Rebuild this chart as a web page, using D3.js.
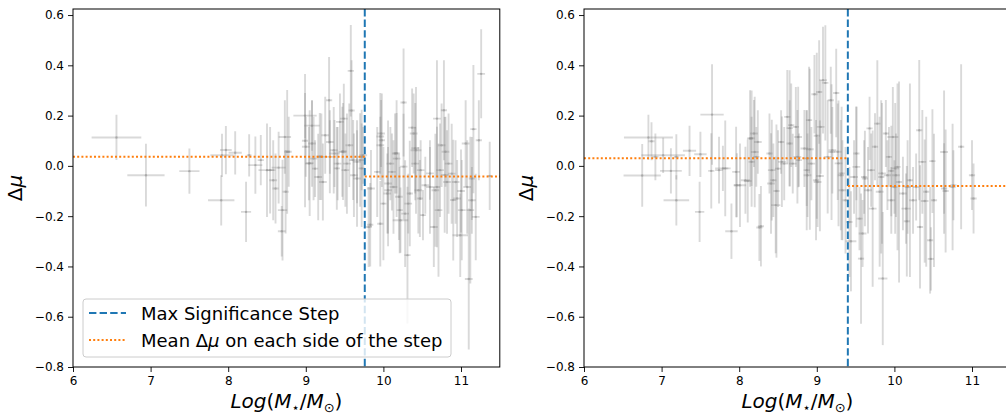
<!DOCTYPE html>
<html>
<head>
<meta charset="utf-8">
<script src="https://cdn.jsdelivr.net/npm/d3@7"></script>
<style>
  body { margin: 0; background: #fff; }
  text { font-family: "DejaVu Sans", sans-serif; }
</style>
</head>
<body>
<div id="container"></div>
<script>
let w = 1006;
let h = 419;

// tick values shared by both panels
let xTicks = [6, 7, 8, 9, 10, 11];
let yTicks = [-0.8, -0.6, -0.4, -0.2, 0.0, 0.2, 0.4, 0.6];

// [logM, dmu, xerr, yerr]
let leftPoints = [
  [6.56, 0.113, 0.32, 0.09], [6.94, -0.037, 0.24, 0.125], [7.50, -0.021, 0.13, 0.09],
  [7.91, -0.137, 0.17, 0.10], [8.23, -0.183, 0.065, 0.12], [7.92, 0.042, 0.15, 0.086],
  [7.97, 0.063, 0.075, 0.096], [8.09, 0.052, 0.085, 0.086], [8.27, 0.042, 0.03, 0.084],
  [8.35, 0.003, 0.09, 0.114], [8.42, 0.023, 0.04, 0.10], [8.50, -0.017, 0.11, 0.186],
  [8.54, -0.017, 0.05, 0.172], [8.58, -0.057, 0.05, 0.159], [8.61, -0.090, 0.04, 0.139],
  [8.65, -0.007, 0.09, 0.143], [8.69, -0.26, 0.05, 0.10], [8.70, -0.176, 0.06, 0.20],
  [8.73, 0.115, 0.08, 0.146], [8.74, -0.103, 0.04, 0.166], [8.76, 0.056, 0.04, 0.246],
  [8.78, 0.056, 0.04, 0.139], [8.99, 0.20, 0.15, 0.09], [9.00, 0.076, 0.05, 0.119],
  [9.04, 0.009, 0.05, 0.146], [9.08, 0.089, 0.05, 0.172], [9.08, 0.16, 0.10, 0.10],
  [9.10, 0.029, 0.05, 0.166], [9.12, -0.011, 0.04, 0.113], [9.16, -0.044, 0.05, 0.172],
  [9.20, 0.036, 0.05, 0.172], [9.22, -0.064, 0.05, 0.153], [9.25, 0.122, 0.05, 0.153],
  [9.30, 0.261, 0.04, 0.172], [9.31, 0.095, 0.05, 0.126], [9.36, 0.062, 0.05, 0.172],
  [9.37, 0.049, 0.07, 0.133], [9.41, 0.009, 0.05, 0.146], [9.44, 0.175, 0.05, 0.113],
  [9.47, 0.056, 0.05, 0.179], [9.49, 0.188, 0.05, 0.139], [9.51, -0.017, 0.05, 0.146],
  [9.53, 0.009, 0.05, 0.199], [9.56, 0.082, 0.05, 0.166], [9.58, 0.378, 0.04, 0.182],
  [9.61, 0.023, 0.05, 0.159], [9.62, -0.037, 0.05, 0.166], [9.66, -0.050, 0.05, 0.192],
  [9.70, 0.023, 0.05, 0.186], [9.72, 0.036, 0.05, 0.133], [9.74, 0.042, 0.05, 0.113],
  [9.81, -0.243, 0.04, 0.159], [9.84, -0.090, 0.05, 0.153], [9.92, -0.024, 0.04, 0.179],
  [9.96, 0.082, 0.05, 0.113], [9.97, 0.129, 0.05, 0.133], [9.98, 0.102, 0.04, 0.186],
  [10.00, -0.150, 0.04, 0.225], [10.05, -0.110, 0.05, 0.159], [10.06, -0.097, 0.05, 0.172],
  [10.09, 0.009, 0.05, 0.146], [10.11, -0.024, 0.05, 0.153], [10.13, -0.084, 0.05, 0.186],
  [10.15, 0.049, 0.04, 0.159], [10.17, 0.029, 0.05, 0.232], [10.20, -0.123, 0.05, 0.172],
  [10.22, -0.216, 0.10, 0.13], [10.21, -0.176, 0.04, 0.172], [10.26, 0.252, 0.04, 0.215],
  [10.28, -0.190, 0.05, 0.212], [10.31, -0.355, 0.04, 0.272], [10.32, -0.150, 0.05, 0.119],
  [10.37, 0.152, 0.05, 0.156], [10.39, 0.129, 0.05, 0.159], [10.41, 0.009, 0.05, 0.146],
  [10.42, 0.062, 0.07, 0.252], [10.45, -0.097, 0.05, 0.172], [10.48, -0.017, 0.05, 0.119],
  [10.51, -0.196, 0.04, 0.10], [10.54, -0.077, 0.05, 0.113], [10.60, -0.084, 0.05, 0.186],
  [10.65, -0.243, 0.05, 0.159], [10.67, -0.097, 0.05, 0.225], [10.69, 0.188, 0.05, 0.232],
  [10.71, -0.176, 0.05, 0.265], [10.73, -0.017, 0.05, 0.186], [10.75, 0.082, 0.05, 0.166],
  [10.78, 0.221, 0.04, 0.199], [10.80, 0.056, 0.05, 0.139], [10.82, -0.064, 0.05, 0.206],
  [10.84, 0.009, 0.05, 0.199], [10.88, -0.031, 0.05, 0.199], [10.93, -0.064, 0.05, 0.166],
  [10.95, -0.130, 0.05, 0.153], [10.99, -0.276, 0.10, 0.166], [11.01, -0.176, 0.05, 0.199],
  [11.06, 0.089, 0.05, 0.172], [11.08, -0.084, 0.05, 0.186], [11.10, -0.45, 0.05, 0.28],
  [11.12, -0.176, 0.05, 0.292], [11.14, -0.137, 0.05, 0.133], [11.16, 0.146, 0.04, 0.255],
  [11.19, -0.203, 0.05, 0.172], [11.23, 0.102, 0.04, 0.159], [11.26, 0.366, 0.05, 0.177],
  [11.37, -0.040, 0.03, 0.136],
  [8.99, 0.100, 0.04, 0.265], [9.05, 0.011, 0.05, 0.21], [9.18, 0.037, 0.04, 0.173],
  [9.31, 0.036, 0.05, 0.145], [9.40, -0.010, 0.04, 0.165], [9.48, 0.057, 0.05, 0.193],
  [9.59, 0.220, 0.04, 0.20], [9.66, 0.016, 0.05, 0.165], [9.72, -0.010, 0.04, 0.233],
  [9.83, -0.234, 0.04, 0.166], [9.96, 0.117, 0.05, 0.173], [9.96, -0.230, 0.04, 0.17],
  [10.06, -0.070, 0.05, 0.25], [10.17, 0.050, 0.04, 0.16], [10.26, -0.003, 0.05, 0.21],
  [10.34, -0.110, 0.04, 0.21], [10.41, 0.070, 0.05, 0.18], [10.47, -0.130, 0.04, 0.153],
  [10.60, -0.030, 0.05, 0.105], [10.69, -0.084, 0.04, 0.24], [10.79, -0.036, 0.05, 0.23],
  [10.90, -0.136, 0.04, 0.24], [11.00, -0.100, 0.05, 0.165], [11.14, -0.050, 0.04, 0.165]
];

// [logM, dmu, xerr, yerr]
let rightPoints = [
  [6.83, 0.113, 0.315, 0.09], [6.87, 0.098, 0.04, 0.076], [6.92, 0.036, 0.04, 0.093],
  [6.75, -0.038, 0.24, 0.125], [7.02, 0.042, 0.28, 0.07], [7.12, -0.020, 0.14, 0.09],
  [7.19, -0.137, 0.165, 0.10], [7.19, 0.036, 0.03, 0.09], [7.36, 0.060, 0.085, 0.10],
  [7.50, 0.046, 0.08, 0.09], [7.49, -0.183, 0.06, 0.12], [7.65, 0.204, 0.15, 0.20],
  [7.64, -0.020, 0.04, 0.15], [7.74, -0.017, 0.05, 0.133], [7.79, -0.010, 0.10, 0.09],
  [7.90, -0.260, 0.08, 0.11], [7.96, -0.024, 0.05, 0.18], [8.01, -0.077, 0.08, 0.166],
  [8.08, -0.057, 0.06, 0.133], [8.14, 0.109, 0.04, 0.192], [8.16, 0.016, 0.04, 0.179],
  [8.19, 0.129, 0.05, 0.133], [8.22, 0.036, 0.04, 0.119], [8.24, 0.095, 0.05, 0.126],
  [8.26, -0.245, 0.04, 0.133], [8.39, 0.049, 0.04, 0.159], [8.41, -0.070, 0.05, 0.20],
  [8.44, -0.057, 0.04, 0.146], [8.47, -0.156, 0.06, 0.192], [8.50, -0.011, 0.04, 0.153],
  [8.54, 0.095, 0.04, 0.126], [8.58, 0.009, 0.05, 0.146], [8.62, 0.195, 0.04, 0.186],
  [8.65, 0.089, 0.04, 0.172], [8.67, 0.162, 0.04, 0.166], [8.69, 0.009, 0.05, 0.119],
  [8.73, 0.155, 0.04, 0.159], [8.75, 0.036, 0.05, 0.186], [8.77, 0.023, 0.04, 0.106],
  [8.84, 0.069, 0.05, 0.153], [8.87, -0.017, 0.04, 0.239], [8.88, -0.037, 0.05, 0.166],
  [8.90, 0.182, 0.04, 0.212], [8.93, 0.009, 0.05, 0.146], [8.97, 0.285, 0.04, 0.156],
  [8.99, -0.057, 0.04, 0.239], [9.01, -0.064, 0.05, 0.179], [9.03, 0.294, 0.04, 0.206],
  [9.05, 0.155, 0.05, 0.186], [9.08, 0.341, 0.05, 0.212], [9.11, 0.330, 0.04, 0.229],
  [9.14, 0.036, 0.05, 0.225], [9.18, 0.261, 0.04, 0.133], [9.20, 0.062, 0.05, 0.172],
  [9.25, 0.290, 0.04, 0.176], [9.27, 0.056, 0.05, 0.192], [9.31, -0.037, 0.04, 0.219],
  [9.33, -0.097, 0.05, 0.199], [9.37, -0.137, 0.04, 0.212], [9.42, -0.223, 0.04, 0.219],
  [9.44, -0.300, 0.07, 0.199], [9.48, -0.044, 0.05, 0.146], [9.51, 0.049, 0.04, 0.186],
  [9.55, -0.210, 0.04, 0.126], [9.57, -0.369, 0.04, 0.259], [9.59, -0.269, 0.05, 0.133],
  [9.61, -0.044, 0.04, 0.146], [9.66, -0.097, 0.05, 0.172], [9.68, 0.149, 0.04, 0.126],
  [9.70, -0.017, 0.05, 0.146], [9.72, -0.170, 0.05, 0.311], [9.75, 0.076, 0.04, 0.133],
  [9.78, 0.168, 0.04, 0.252], [9.81, -0.103, 0.05, 0.298], [9.83, -0.044, 0.04, 0.305],
  [9.85, -0.448, 0.06, 0.265], [9.89, 0.129, 0.04, 0.133], [9.91, -0.037, 0.05, 0.139],
  [9.93, 0.036, 0.04, 0.119], [9.96, -0.137, 0.05, 0.133], [9.98, 0.115, 0.07, 0.199],
  [10.00, -0.084, 0.04, 0.106], [10.02, -0.037, 0.05, 0.166], [10.04, -0.004, 0.04, 0.332],
  [10.06, -0.064, 0.04, 0.40], [10.11, -0.110, 0.05, 0.146], [10.15, -0.170, 0.06, 0.14],
  [10.17, -0.084, 0.04, 0.186], [10.20, -0.057, 0.04, 0.385], [10.24, -0.137, 0.05, 0.133],
  [10.28, -0.084, 0.04, 0.133], [10.32, 0.142, 0.04, 0.279], [10.33, -0.243, 0.04, 0.245],
  [10.36, 0.016, 0.05, 0.206], [10.41, -0.103, 0.04, 0.298], [10.46, -0.296, 0.04, 0.212],
  [10.49, 0.019, 0.04, 0.206], [10.51, -0.137, 0.04, 0.265], [10.64, 0.055, 0.05, 0.245],
  [10.66, -0.10, 0.04, 0.245], [10.75, -0.084, 0.04, 0.252], [10.76, -0.077, 0.04, 0.139],
  [10.86, 0.076, 0.04, 0.328], [11.00, -0.037, 0.04, 0.139], [11.02, -0.13, 0.04, 0.139],
  [7.82, -0.010, 0.04, 0.19], [7.97, -0.077, 0.04, 0.127], [8.11, -0.060, 0.05, 0.165],
  [8.16, 0.110, 0.04, 0.19], [8.20, 0.055, 0.05, 0.22], [8.28, -0.240, 0.04, 0.16],
  [8.42, -0.017, 0.05, 0.20], [8.48, -0.100, 0.04, 0.265], [8.55, 0.016, 0.05, 0.18],
  [8.65, 0.150, 0.04, 0.23], [8.76, 0.115, 0.05, 0.20], [8.87, 0.030, 0.04, 0.19],
  [8.91, 0.066, 0.05, 0.32], [9.00, 0.120, 0.04, 0.33], [9.04, -0.040, 0.05, 0.22],
  [9.19, 0.055, 0.04, 0.27], [9.28, 0.010, 0.05, 0.25], [9.32, -0.030, 0.04, 0.265],
  [9.51, -0.004, 0.05, 0.24], [9.62, -0.050, 0.04, 0.19], [9.84, -0.030, 0.05, 0.28],
  [9.96, -0.020, 0.04, 0.18], [10.01, -0.010, 0.05, 0.26], [10.16, -0.220, 0.04, 0.22],
  [10.39, -0.140, 0.05, 0.245], [10.47, -0.370, 0.04, 0.126], [10.64, -0.090, 0.04, 0.18]
];

// step position and mean dmu on each side of it
let leftStep = 9.76;
let leftMeans = [0.036, -0.042];
let rightStep = 9.40;
let rightMeans = [0.030, -0.080];

let legendLabels = ["Max Significance Step", "Mean Δμ on each side of the step"];

let plotTop = 9;
let plotBottom = 367;
let blue = "#1f77b4";
let orange = "#ff7f0e";
let dotted = "2,2.2";
let dashed = "7.4,3.2";

let viz = d3.select("#container")
  .append("svg")
    .attr("width", w)
    .attr("height", h)
    .style("background-color", "white");

let yScale = d3.scaleLinear().domain([-0.8, 0.624]).range([plotBottom, plotTop]);

// writes "Δμ" style text with an italic mu
function addMu(sel, before, after){
  sel.append("tspan").text(before);
  sel.append("tspan").attr("font-style", "italic").text("μ");
  if(after) sel.append("tspan").text(after);
}

function drawPanel(left, right, points, step, means, id, withLegend){
  let xScale = d3.scaleLinear().domain([6, 11.5]).range([left, right]);
  let panel = viz.append("g");

  panel.append("clipPath").attr("id", id)
    .append("rect")
      .attr("x", left).attr("y", plotTop)
      .attr("width", right - left).attr("height", plotBottom - plotTop);

  let plot = panel.append("g").attr("clip-path", "url(#" + id + ")");

  // error bars
  let groups = plot.selectAll(".pt").data(points).enter()
    .append("g").attr("class", "pt")
    .attr("stroke", "gray").attr("stroke-opacity", 0.3).attr("stroke-width", 1.9);
  groups.append("line")
    .attr("x1", d => xScale(d[0])).attr("x2", d => xScale(d[0]))
    .attr("y1", d => yScale(d[1] - d[3])).attr("y2", d => yScale(d[1] + d[3]));
  groups.append("line")
    .attr("x1", d => xScale(d[0] - d[2])).attr("x2", d => xScale(d[0] + d[2]))
    .attr("y1", d => yScale(d[1])).attr("y2", d => yScale(d[1]));
  plot.selectAll(".mk").data(points).enter()
    .append("circle").attr("class", "mk")
    .attr("cx", d => xScale(d[0])).attr("cy", d => yScale(d[1]))
    .attr("r", 1.2).attr("fill", "gray").attr("fill-opacity", 0.35);

  // step and means
  plot.append("line")
    .attr("x1", xScale(step)).attr("x2", xScale(step))
    .attr("y1", plotTop).attr("y2", plotBottom)
    .attr("stroke", blue).attr("stroke-width", 2).attr("stroke-dasharray", dashed);
  let segs = [[6, step, means[0]], [step, 11.5, means[1]]];
  plot.selectAll(".mean").data(segs).enter()
    .append("line").attr("class", "mean")
    .attr("x1", d => xScale(d[0])).attr("x2", d => xScale(d[1]))
    .attr("y1", d => yScale(d[2])).attr("y2", d => yScale(d[2]))
    .attr("stroke", orange).attr("stroke-width", 2).attr("stroke-dasharray", dotted);

  // axes
  let xAxis = d3.axisBottom(xScale).tickValues(xTicks).tickSize(5).tickPadding(4)
    .tickFormat(d3.format("d"));
  let xg = panel.append("g").attr("transform", "translate(0," + plotBottom + ")").call(xAxis);
  xg.select(".domain").remove();
  xg.attr("font-size", 12).attr("font-family", "DejaVu Sans");
  xg.selectAll("line").attr("stroke-width", 0.9);

  let yAxis = d3.axisLeft(yScale).tickValues(yTicks).tickSize(5).tickPadding(4)
    .tickFormat(d3.format(".1f"));
  let yg = panel.append("g").attr("transform", "translate(" + left + ",0)").call(yAxis);
  yg.select(".domain").remove();
  yg.attr("font-size", 12).attr("font-family", "DejaVu Sans");
  yg.selectAll("line").attr("stroke-width", 0.9);

  // spines
  panel.append("rect")
    .attr("x", left).attr("y", plotTop)
    .attr("width", right - left).attr("height", plotBottom - plotTop)
    .attr("fill", "none").attr("stroke", "black").attr("stroke-width", 1);

  // x label
  let xl = panel.append("text")
    .attr("x", (left + right) / 2).attr("y", 408)
    .attr("text-anchor", "middle").attr("font-size", 20);
  xl.append("tspan").attr("font-style", "italic").text("Log");
  xl.append("tspan").text("(");
  xl.append("tspan").attr("font-style", "italic").text("M");
  xl.append("tspan").attr("font-size", 13).attr("dy", 4).text("⋆");
  xl.append("tspan").attr("dy", -4).text("/");
  xl.append("tspan").attr("font-style", "italic").text("M");
  xl.append("tspan").attr("font-size", 13).attr("dy", 4).text("⊙");
  xl.append("tspan").attr("dy", -4).text(")");

  // y label
  let yl = panel.append("text")
    .attr("transform", "translate(" + (left - 51) + "," + ((plotTop + plotBottom) / 2) + ") rotate(-90)")
    .attr("text-anchor", "middle").attr("font-size", 20);
  addMu(yl, "Δ", null);

  if(withLegend){
    let lg = panel.append("g");
    lg.append("rect")
      .attr("x", left + 10).attr("y", 299).attr("width", 368).attr("height", 58)
      .attr("rx", 3).attr("fill", "white").attr("fill-opacity", 0.8)
      .attr("stroke", "#cccccc").attr("stroke-width", 1);
    let rows = [
      {label: legendLabels[0], color: blue, dash: dashed, y: 313},
      {label: legendLabels[1], color: orange, dash: dotted, y: 340}
    ];
    rows.forEach(function(r, i){
      lg.append("line")
        .attr("x1", left + 16).attr("x2", left + 53)
        .attr("y1", r.y).attr("y2", r.y)
        .attr("stroke", r.color).attr("stroke-width", 2).attr("stroke-dasharray", r.dash);
      let t = lg.append("text")
        .attr("x", left + 68).attr("y", r.y + 6.5).attr("font-size", 18);
      if(i == 0){
        t.text(r.label);
      }else{
        let parts = r.label.split("μ");
        addMu(t, parts[0], parts[1]);
      }
    });
  }
}

drawPanel(73, 499.8, leftPoints, leftStep, leftMeans, "clipLeft", true);
drawPanel(584, 1010.8, rightPoints, rightStep, rightMeans, "clipRight", false);
</script>
</body>
</html>
